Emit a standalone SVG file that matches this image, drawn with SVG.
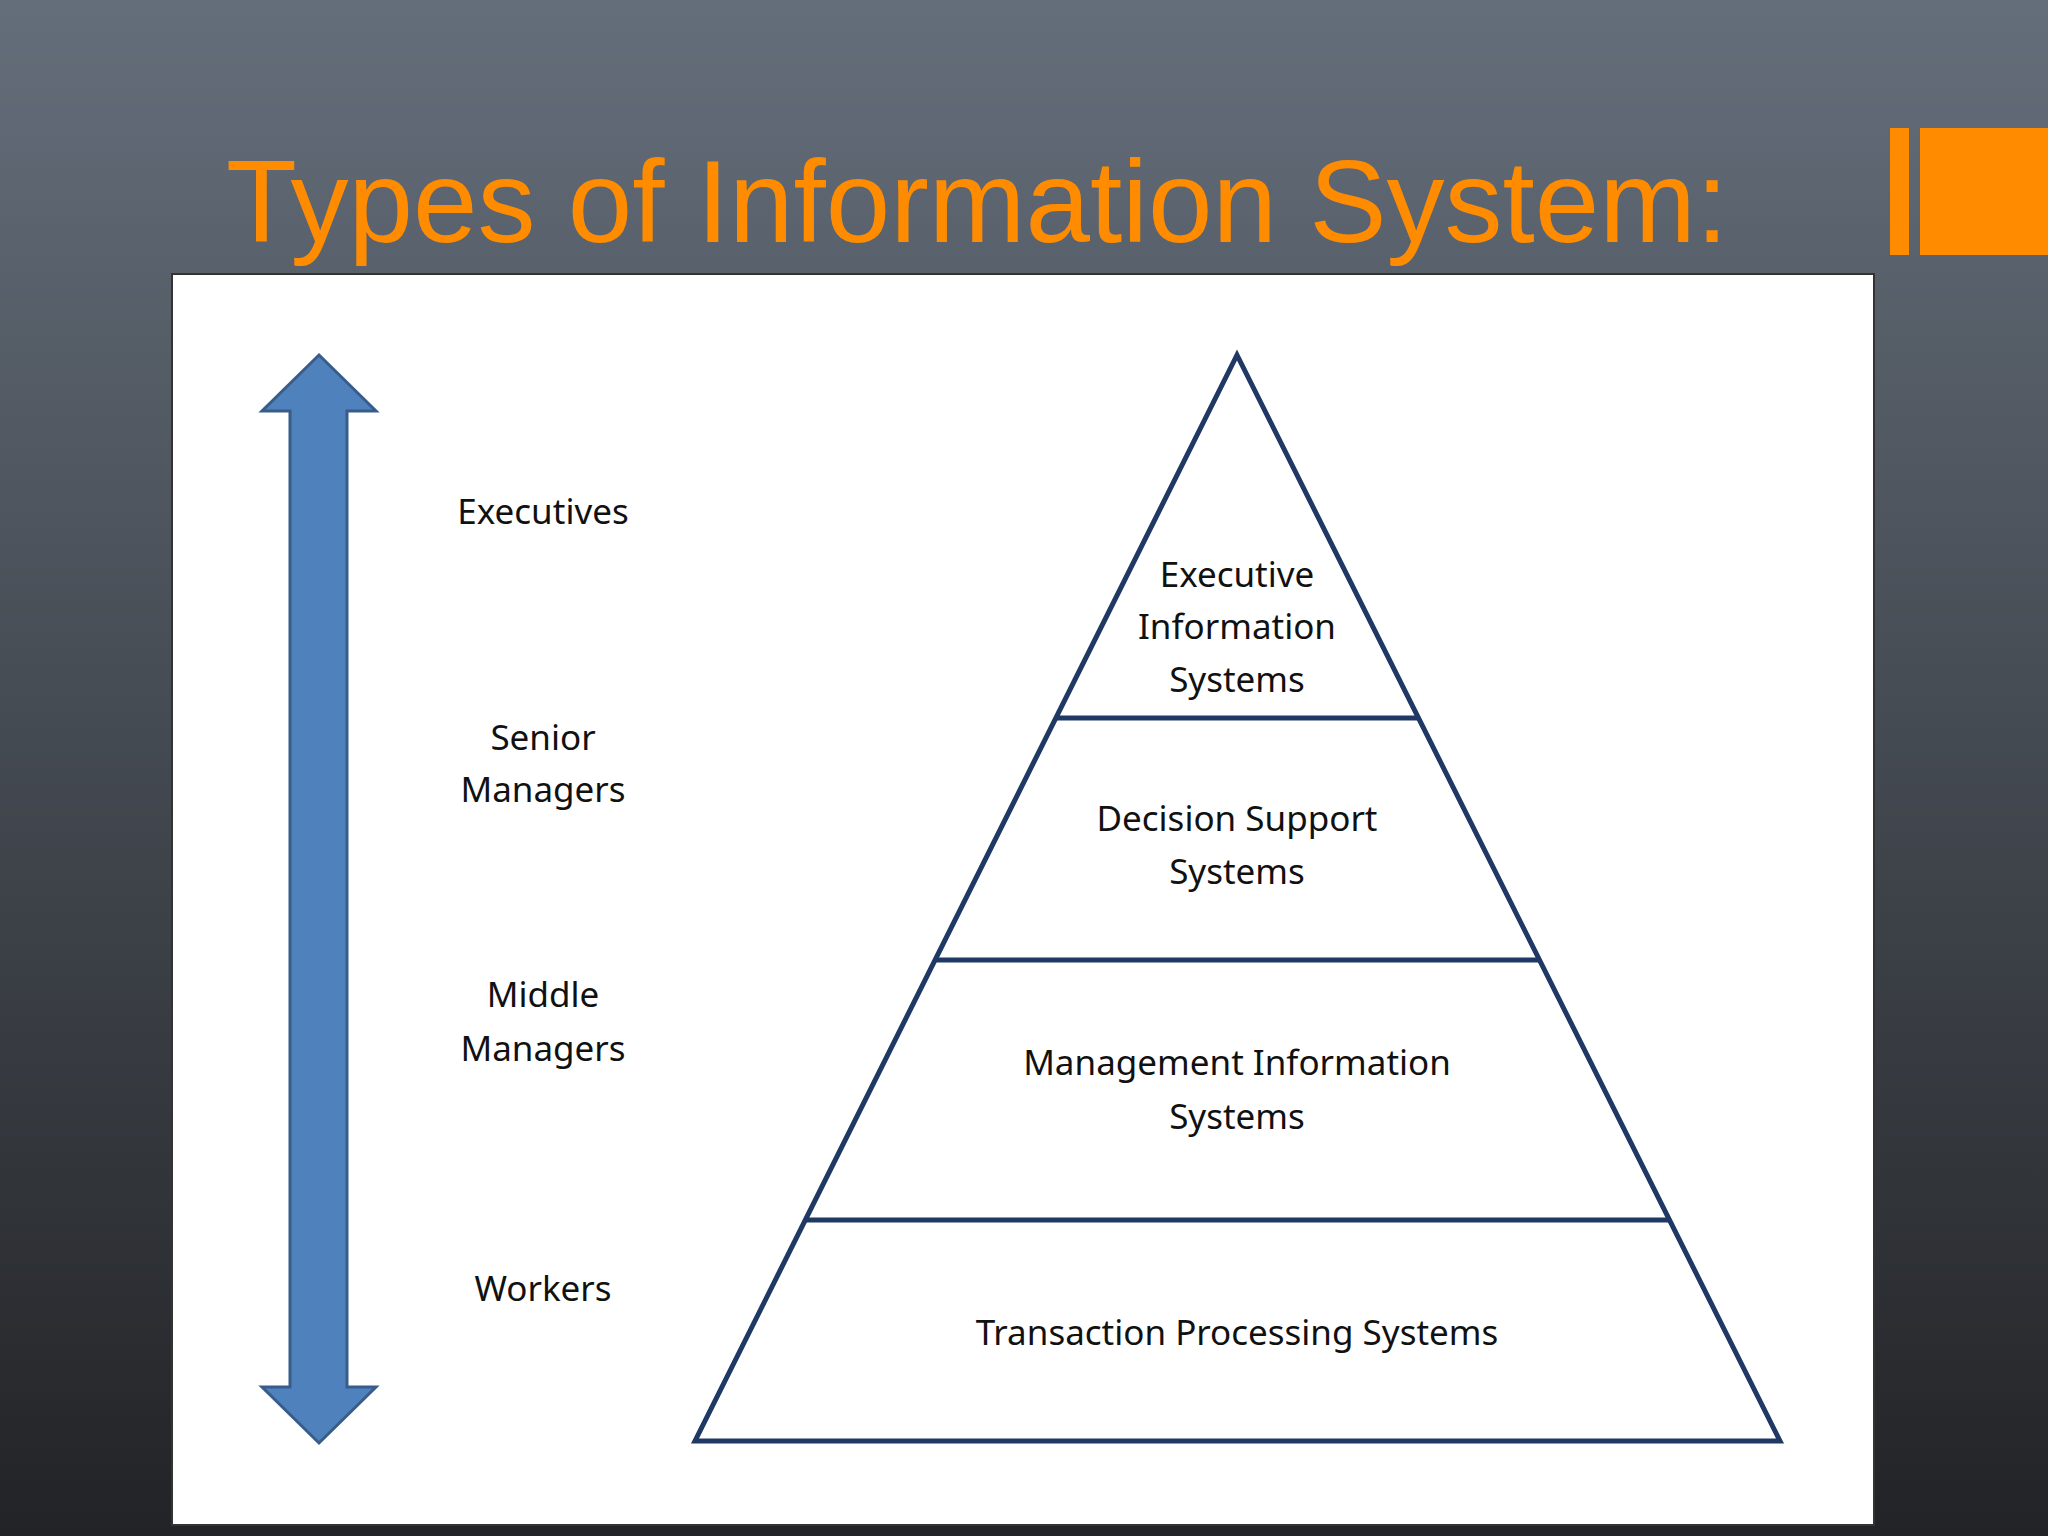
<svg xmlns="http://www.w3.org/2000/svg" width="2048" height="1536" viewBox="0 0 2048 1536">
<defs>
<linearGradient id="bg" x1="0" y1="0" x2="0" y2="1"><stop offset="0" stop-color="#646e7a"/><stop offset="1" stop-color="#222326"/></linearGradient>
<style>
.t{font-family:"Noto Sans","Open Sans",sans-serif;font-size:35px;fill:#111;text-anchor:middle}
.ln{stroke:#1f3864;stroke-width:5;fill:none}
</style>
</defs>
<rect width="2048" height="1536" fill="url(#bg)"/>
<text x="226" y="242" font-family="Liberation Sans,Arial,sans-serif" font-size="116" fill="#ff8c00">Types of Information System:</text>
<rect x="1890" y="128" width="19" height="127" fill="#ff8c00"/>
<rect x="1920" y="128" width="128" height="127" fill="#ff8c00"/>
<rect x="172" y="274" width="1702" height="1251" fill="#fff" stroke="#333" stroke-width="2"/>
<g id="arrow"><polygon points="319,355 376,411 347,411 347,1387 376,1387 319,1443 262,1387 290,1387 290,411 262,411" fill="#4f81bd" stroke="#385d8a" stroke-width="3"/></g>
<g id="pyramid">
<polygon class="ln" points="1237,355 1780,1441 695,1441"/>
<line class="ln" x1="1056" y1="718" x2="1418" y2="718"/>
<line class="ln" x1="935" y1="960" x2="1539" y2="960"/>
<line class="ln" x1="805" y1="1220" x2="1669" y2="1220"/>
</g>
<g id="eis"><text class="t" x="1237" y="587">Executive</text><text class="t" x="1237" y="639">Information</text><text class="t" x="1237" y="692">Systems</text></g>
<g id="dss"><text class="t" x="1237" y="831">Decision Support</text><text class="t" x="1237" y="884">Systems</text></g>
<g id="mis"><text class="t" x="1237" y="1075">Management Information</text><text class="t" x="1237" y="1129">Systems</text></g>
<g id="tps"><text class="t" x="1237" y="1345">Transaction Processing Systems</text></g>
<g id="levels">
<text class="t" x="543" y="524">Executives</text>
<text class="t" x="543" y="750">Senior</text><text class="t" x="543" y="802">Managers</text>
<text class="t" x="543" y="1007">Middle</text><text class="t" x="543" y="1061">Managers</text>
<text class="t" x="543" y="1301">Workers</text>
</g>
</svg>
